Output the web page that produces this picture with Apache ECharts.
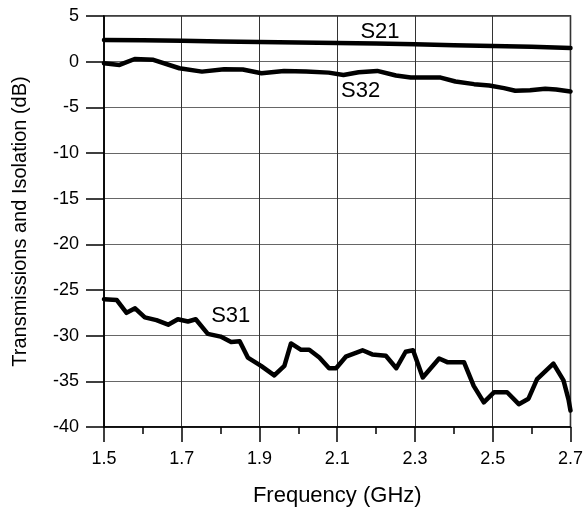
<!DOCTYPE html>
<html>
<head>
<meta charset="utf-8">
<script src="https://cdn.jsdelivr.net/npm/echarts@6/dist/echarts.min.js"></script>
<style>html,body{margin:0;padding:0;background:#fff}#c{width:586px;height:512px}</style>
</head>
<body>
<div id="c"></div>
<script>
// Frequency (GHz) and values (dB)
var s21Freq = [1.5, 1.6, 1.7, 1.8, 1.9, 2.0, 2.1, 2.2, 2.3, 2.4, 2.5, 2.6, 2.7];
var s21Val  = [2.38, 2.35, 2.3, 2.2, 2.14, 2.1, 2.05, 1.98, 1.9, 1.8, 1.72, 1.62, 1.5];

var s32Freq = [1.5, 1.54, 1.579, 1.627, 1.694, 1.752, 1.809, 1.857, 1.905, 1.963, 2.02, 2.078, 2.116, 2.155, 2.203, 2.251, 2.289, 2.366, 2.404, 2.452, 2.491, 2.529, 2.558, 2.596, 2.635, 2.663, 2.7];
var s32Val  = [-0.18, -0.36, 0.29, 0.2, -0.72, -1.09, -0.83, -0.85, -1.27, -1.01, -1.09, -1.2, -1.45, -1.16, -1.01, -1.52, -1.74, -1.74, -2.17, -2.46, -2.61, -2.9, -3.19, -3.12, -2.97, -3.04, -3.26];

var s31Freq = [1.5, 1.533, 1.558, 1.58, 1.605, 1.635, 1.665, 1.69, 1.716, 1.736, 1.767, 1.8, 1.827, 1.849, 1.87, 1.904, 1.938, 1.964, 1.981, 2.007, 2.028, 2.054, 2.079, 2.097, 2.122, 2.165, 2.19, 2.225, 2.252, 2.276, 2.295, 2.32, 2.362, 2.383, 2.426, 2.451, 2.477, 2.503, 2.537, 2.567, 2.592, 2.614, 2.656, 2.682, 2.695, 2.7];
var s31Val  = [-26.0, -26.1, -27.5, -27.0, -28.0, -28.3, -28.8, -28.2, -28.45, -28.2, -29.8, -30.1, -30.7, -30.6, -32.4, -33.3, -34.35, -33.3, -30.85, -31.55, -31.55, -32.4, -33.56, -33.56, -32.3, -31.6, -32.05, -32.2, -33.56, -31.76, -31.6, -34.57, -32.5, -32.9, -32.9, -35.5, -37.3, -36.2, -36.2, -37.5, -36.9, -34.75, -33.06, -34.9, -37.0, -38.2];

var xTicks = [1.5, 1.7, 1.9, 2.1, 2.3, 2.5, 2.7];
var yTicks = [-40, -35, -30, -25, -20, -15, -10, -5, 0, 5];

var seriesLabels = [
  {name: 'S21', at: [2.21, 3.3]},
  {name: 'S32', at: [2.16, -3.2]},
  {name: 'S31', at: [1.826, -27.8]}
];

function zip(a, b) { return a.map(function (v, i) { return [v, b[i]]; }); }

var chart = echarts.init(document.getElementById('c'), null, {renderer: 'canvas'});
var font = 'Liberation Sans, Arial, sans-serif';
var lineSeries = [zip(s21Freq, s21Val), zip(s32Freq, s32Val), zip(s31Freq, s31Val)].map(function (d, i) {
  return {
    type: 'line', data: d, showSymbol: false, symbol: 'none', smooth: false,
    lineStyle: {color: '#000', width: 4.5, join: 'round', cap: 'round'},
    markPoint: {
      symbol: 'circle', symbolSize: 0,
      data: [{coord: seriesLabels[i].at}],
      label: {show: true, position: 'inside', formatter: seriesLabels[i].name,
        color: '#000', fontSize: 22, fontFamily: font}
    },
    z: 3
  };
});

chart.setOption({
  animation: false,
  backgroundColor: '#fff',
  grid: {left: 104, right: 15, top: 16, bottom: 82, show: true, borderColor: '#000', borderWidth: 1.5, backgroundColor: 'transparent'},
  xAxis: {
    type: 'value', min: xTicks[0], max: xTicks[xTicks.length - 1], interval: 0.2,
    name: 'Frequency (GHz)', nameLocation: 'middle', nameGap: 58,
    nameTextStyle: {color: '#000', fontSize: 22, fontFamily: font},
    axisLine: {show: true, onZero: false, lineStyle: {color: '#000', width: 1.5}},
    axisTick: {show: true, inside: false, length: 15, lineStyle: {color: '#000', width: 1.5}},
    minorTick: {show: true, splitNumber: 2, length: 7, lineStyle: {color: '#000', width: 1.5}},
    splitLine: {show: true, lineStyle: {color: '#333', width: 1}},
    axisLabel: {color: '#000', fontSize: 18, fontFamily: font, margin: 23,
      formatter: function (v) { return v.toFixed(1); }}
  },
  yAxis: {
    type: 'value', min: yTicks[0], max: yTicks[yTicks.length - 1], interval: 5,
    name: 'Transmissions and Isolation (dB)', nameLocation: 'middle', nameGap: 74,
    nameTextStyle: {color: '#000', fontSize: 20, fontFamily: font},
    axisLine: {show: true, onZero: false, lineStyle: {color: '#000', width: 1.5}},
    axisTick: {show: true, inside: false, length: 18, lineStyle: {color: '#000', width: 1.5}},
    splitLine: {show: true, lineStyle: {color: '#666', width: 1}},
    axisLabel: {color: '#000', fontSize: 18, fontFamily: font, margin: 25}
  },
  series: lineSeries
});
</script>
</body>
</html>
